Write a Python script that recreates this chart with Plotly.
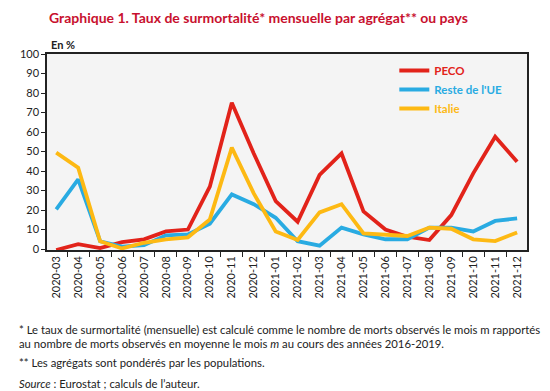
import plotly.graph_objects as go

months = ["2020-03", "2020-04", "2020-05", "2020-06", "2020-07", "2020-08", "2020-09",
          "2020-10", "2020-11", "2020-12", "2021-01", "2021-02", "2021-03", "2021-04",
          "2021-05", "2021-06", "2021-07", "2021-08", "2021-09", "2021-10", "2021-11",
          "2021-12"]
peco = [-0.5, 2.5, 0.5, 3.5, 5, 9, 10, 32, 75, 49, 24.6, 14, 38, 49, 19.3, 10, 6.3, 4.6,
        17.4, 38.8, 57.6, 44.8]
reste_ue = [20.3, 35.7, 4, 1.2, 2, 7, 7.5, 13, 28, 23, 16, 4, 1.7, 11, 7.5, 5, 5, 11, 11,
            9, 14.4, 15.7]
italie = [49.4, 41.7, 4, 0.3, 3.2, 5, 6, 15.2, 52, 28.5, 9, 4.6, 18.8, 23, 8, 7.2, 6.7,
          11, 10.4, 5, 4.1, 8.5]

series_names = ["PECO", "Reste de l'UE", "Italie"]
colors = ["#e2231a", "#29abe2", "#fdb913"]

# the page body has an 8px margin: lay the figure out 8px up/left
OFF = 8
W, H = 550 - OFF, 391 - OFF
L, T = 35 - OFF, 54 - OFF
R = W - (527 - OFF)
B = H - (250 - OFF)
PW, PH = W - L - R, H - T - B

def px(x_ref):
    return (x_ref - OFF - L) / PW

def py(y_ref):
    return (H - B - (y_ref - OFF)) / PH

FONT = "Lato"

fig = go.Figure()
for name, vals, col in zip(series_names, [peco, reste_ue, italie], colors):
    fig.add_trace(go.Scatter(
        x=months, y=vals, mode="lines",
        name=f"<span style='color:{col}'><b>{name}</b></span>",
        line=dict(color=col, width=3.8),
    ))

fig.update_layout(
    width=W, height=H,
    margin=dict(l=L, r=R, t=T, b=B),
    paper_bgcolor="white",
    plot_bgcolor="#f4f4f4",
    font=dict(family=FONT, size=11, color="#222"),
    showlegend=True,
    legend=dict(x=px(391), y=py(56), xanchor="left", yanchor="top",
                bgcolor="rgba(0,0,0,0)", font=dict(size=11.5, family=FONT),
                tracegroupgap=0, itemwidth=30),
    xaxis=dict(type="category", range=[-0.42, 21.45], tickangle=-90,
               showline=True, linecolor="#222", linewidth=1.5, mirror=True,
               ticks="outside", tickson="boundaries", ticklen=5, tickcolor="#222",
               showgrid=False, tickfont=dict(size=11)),
    yaxis=dict(range=[-0.5, 100], dtick=10, tick0=0,
               showline=True, linecolor="#222", linewidth=1.5, mirror=True,
               ticks="outside", ticklen=4, tickcolor="#222",
               showgrid=False, zeroline=False, tickfont=dict(size=11)),
)

annotations = [
    dict(text="<b>Graphique 1. Taux de surmortalité* mensuelle par agrégat** ou pays</b>",
         x=px(252), y=py(17.5), xanchor="center", yanchor="middle",
         font=dict(size=14, color="#c8102e")),
    dict(text="<b>En %</b>", x=px(37), y=py(44), xanchor="left", yanchor="middle",
         font=dict(size=11)),
    dict(text="* Le taux de surmortalité (mensuelle) est calculé comme le nombre de morts observés le mois m rapportés",
         x=px(4), y=py(329), xanchor="left", yanchor="middle", font=dict(size=11.3)),
    dict(text="au nombre de morts observés en moyenne le mois <i>m</i> au cours des années 2016-2019.",
         x=px(4), y=py(343), xanchor="left", yanchor="middle", font=dict(size=11.3)),
    dict(text="** Les agrégats sont pondérés par les populations.",
         x=px(4), y=py(362), xanchor="left", yanchor="middle", font=dict(size=11.3)),
    dict(text="<i>Source</i> : Eurostat ; calculs de l’auteur.",
         x=px(4), y=py(383), xanchor="left", yanchor="middle", font=dict(size=11.3)),
]
for a in annotations:
    a.update(xref="paper", yref="paper", showarrow=False)
    fig.add_annotation(**a)

fig.write_html("out.html")
